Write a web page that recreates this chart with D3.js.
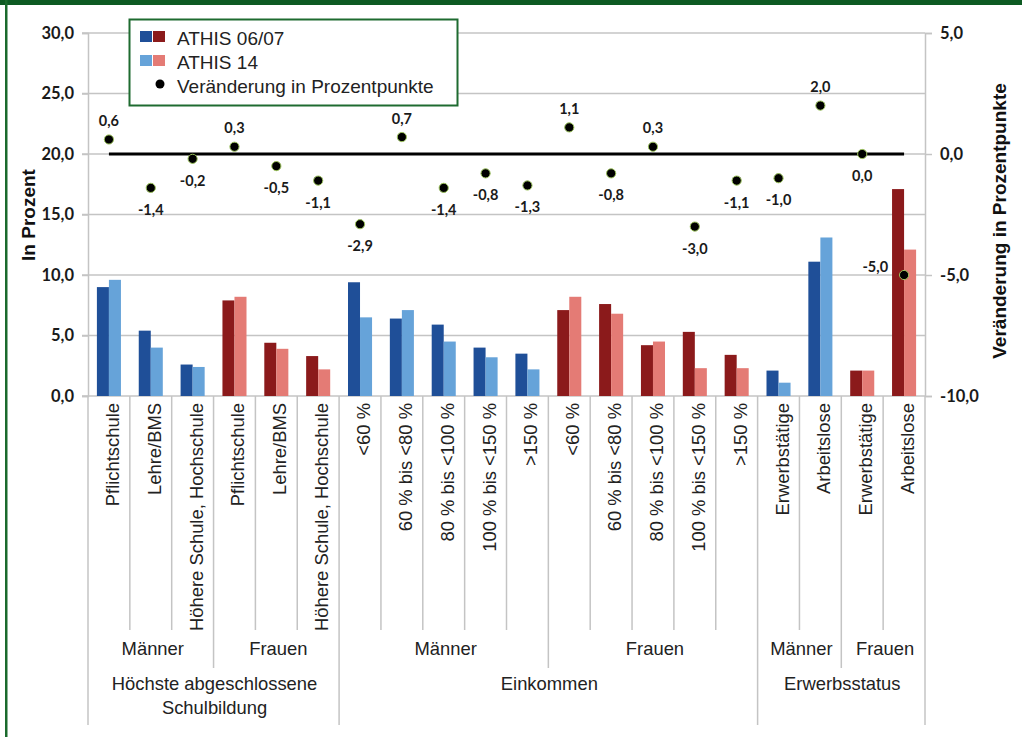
<!DOCTYPE html>
<html>
<head>
<meta charset="utf-8">
<script src="https://cdn.jsdelivr.net/npm/d3@7"></script>
<style>
  html, body { margin: 0; padding: 0; background: #fff; }
  svg { display: block; }
</style>
</head>
<body>
<svg id="chart" width="1022" height="737"></svg>
<script>
// Categories (innermost level of the category axis)
const categories = [
  "Pflichtschule", "Lehre/BMS", "Höhere Schule, Hochschule",
  "Pflichtschule", "Lehre/BMS", "Höhere Schule, Hochschule",
  "<60 %", "60 % bis <80 %", "80 % bis <100 %", "100 % bis <150 %", ">150 %",
  "<60 %", "60 % bis <80 %", "80 % bis <100 %", "100 % bis <150 %", ">150 %",
  "Erwerbstätige", "Arbeitslose",
  "Erwerbstätige", "Arbeitslose"
];
// Sex of each category: M = Männer (blue), F = Frauen (red)
const sex = ["M","M","M","F","F","F","M","M","M","M","M","F","F","F","F","F","M","M","F","F"];

// Middle level: sex groups and their sizes
const sexGroups = ["Männer", "Frauen", "Männer", "Frauen", "Männer", "Frauen"];
const sexGroupSizes = [3, 3, 5, 5, 2, 2];

// Outer level: characteristic groups and their sizes
const mainGroups = [["Höchste abgeschlossene", "Schulbildung"], ["Einkommen"], ["Erwerbsstatus"]];
const mainGroupSizes = [6, 10, 4];

// Values in percent
const athis0607 = [9.0, 5.4, 2.6, 7.9, 4.4, 3.3, 9.4, 6.4, 5.9, 4.0, 3.5, 7.1, 7.6, 4.2, 5.3, 3.4, 2.1, 11.1, 2.1, 17.1];
const athis14   = [9.6, 4.0, 2.4, 8.2, 3.9, 2.2, 6.5, 7.1, 4.5, 3.2, 2.2, 8.2, 6.8, 4.5, 2.3, 2.3, 1.1, 13.1, 2.1, 12.1];
// Change in percentage points (right axis)
const change    = [0.6, -1.4, -0.2, 0.3, -0.5, -1.1, -2.9, 0.7, -1.4, -0.8, -1.3, 1.1, -0.8, 0.3, -3.0, -1.1, -1.0, 2.0, 0.0, -5.0];

const leftTicks = [0, 5, 10, 15, 20, 25, 30];
const rightTicks = [-10, -5, 0, 5];

const colors = {
  M: ["#1f4f98", "#66a3d9"],
  F: ["#8b1a1b", "#e47b75"]
};
const green = "#0d5a22";

const svg = d3.select("#chart");
const W = 1022, H = 737;
const plot = { left: 88, right: 925, top: 33, bottom: 396 };

const deLocale = d3.formatLocale({ decimal: ",", thousands: ".", grouping: [3], currency: ["", " €"], minus: "-" });
const fmt = deLocale.format(".1f");

const x = d3.scaleBand().domain(d3.range(categories.length)).range([plot.left, plot.right]);
const xSub = d3.scaleBand().domain([0, 1]).range([0, x.bandwidth()]).paddingOuter(0.74);
const yL = d3.scaleLinear().domain([0, 30]).range([plot.bottom, plot.top]);
const yR = d3.scaleLinear().domain([-10, 5]).range([plot.bottom, plot.top]);

// Frame
svg.append("rect").attr("x", 0).attr("y", 0).attr("width", W).attr("height", 5).attr("fill", green);
svg.append("rect").attr("x", 5).attr("y", 0).attr("width", 2.5).attr("height", H).attr("fill", "#1a6a2c");

// Grid lines
const gridColor = "#c4c4c4";
svg.append("g").selectAll("line").data(leftTicks).join("line")
  .attr("x1", plot.left - 6).attr("x2", plot.right)
  .attr("y1", d => yL(d)).attr("y2", d => yL(d))
  .attr("stroke", gridColor).attr("stroke-width", 1.5);

// Left axis
const axL = svg.append("g").attr("transform", `translate(${plot.left},0)`)
  .call(d3.axisLeft(yL).tickValues(leftTicks).tickFormat(fmt).tickSize(6).tickPadding(8));
axL.select(".domain").attr("stroke", gridColor).attr("stroke-width", 1.5);
axL.selectAll(".tick line").attr("stroke", gridColor).attr("stroke-width", 1.5);
axL.selectAll("text").attr("font-family", "Lato, sans-serif").attr("font-weight", 700)
  .attr("font-size", 16.5).attr("fill", "#1a1a1a");

// Right axis
const axR = svg.append("g").attr("transform", `translate(${plot.right},0)`)
  .call(d3.axisRight(yR).tickValues(rightTicks).tickFormat(fmt).tickSize(7).tickPadding(8));
axR.select(".domain").attr("stroke", gridColor).attr("stroke-width", 1.5);
axR.selectAll(".tick line").attr("stroke", gridColor).attr("stroke-width", 1.5);
axR.selectAll("text").attr("font-family", "Lato, sans-serif").attr("font-weight", 700)
  .attr("font-size", 16.5).attr("fill", "#1a1a1a");

// Bars
const barData = [];
categories.forEach((c, i) => {
  barData.push({ i, s: 0, v: athis0607[i], col: colors[sex[i]][0] });
  barData.push({ i, s: 1, v: athis14[i], col: colors[sex[i]][1] });
});
svg.append("g").selectAll("rect").data(barData).join("rect")
  .attr("x", d => x(d.i) + xSub(d.s))
  .attr("width", xSub.bandwidth())
  .attr("y", d => yL(d.v))
  .attr("height", d => yL(0) - yL(d.v))
  .attr("fill", d => d.col);

// Zero line of the change axis
const centers = d3.range(categories.length).map(i => x(i) + x.bandwidth() / 2);
svg.append("path")
  .datum([0, categories.length - 1])
  .attr("d", d3.line().x(i => centers[i]).y(() => yR(0)))
  .attr("stroke", "#000").attr("stroke-width", 3).attr("fill", "none");

// Change dots and labels
const dots = svg.append("g");
dots.selectAll("circle").data(change).join("circle")
  .attr("cx", (d, i) => centers[i]).attr("cy", d => yR(d)).attr("r", 4.6)
  .attr("fill", "#000").attr("stroke", "#9cc35c").attr("stroke-width", 1);
dots.selectAll("text").data(change).join("text")
  .attr("x", (d, i) => i === change.length - 1 ? centers[i] - 16 : centers[i])
  .attr("y", (d, i) => i === change.length - 1 ? yR(d) - 9 : (d > 0 ? yR(d) - 19 : yR(d) + 21.5))
  .attr("text-anchor", (d, i) => i === change.length - 1 ? "end" : "middle")
  .attr("dominant-baseline", "central")
  .attr("font-family", "Lato, sans-serif").attr("font-weight", 700).attr("font-size", 14.5)
  .attr("fill", "#1a1a1a")
  .text(d => fmt(d));

// Multi-level category axis
const boundaryDepth = new Array(categories.length + 1).fill(1);
let acc = 0;
sexGroupSizes.forEach(n => { acc += n; boundaryDepth[acc] = Math.max(boundaryDepth[acc], 2); });
acc = 0; boundaryDepth[0] = 3;
mainGroupSizes.forEach(n => { acc += n; boundaryDepth[acc] = 3; });
const depthBottom = { 1: 630, 2: 668, 3: 725 };
svg.append("g").selectAll("line").data(boundaryDepth).join("line")
  .attr("x1", (d, i) => plot.left + i * x.step()).attr("x2", (d, i) => plot.left + i * x.step())
  .attr("y1", plot.bottom).attr("y2", d => depthBottom[d])
  .attr("stroke", gridColor).attr("stroke-width", 1.5);

const labelFont = "'Liberation Sans', Arial, sans-serif";
svg.append("g").selectAll("text").data(categories).join("text")
  .attr("transform", (d, i) => `translate(${centers[i] + 10},403) rotate(-90)`)
  .attr("text-anchor", "end")
  .attr("font-family", labelFont).attr("font-size", 18.4).attr("fill", "#222")
  .text(d => d);

let start = 0;
const sexLabels = sexGroups.map((g, k) => {
  const n = sexGroupSizes[k];
  const cx = plot.left + (start + n / 2) * x.step();
  start += n;
  return { g, cx };
});
svg.append("g").selectAll("text").data(sexLabels).join("text")
  .attr("x", d => d.cx + 2).attr("y", 655)
  .attr("text-anchor", "middle")
  .attr("font-family", labelFont).attr("font-size", 18.4).attr("fill", "#222")
  .text(d => d.g);

start = 0;
const mainLabels = mainGroups.map((g, k) => {
  const n = mainGroupSizes[k];
  const cx = plot.left + (start + n / 2) * x.step();
  start += n;
  return { g, cx };
});
const ml = svg.append("g").selectAll("text").data(mainLabels).join("text")
  .attr("x", d => d.cx + 1).attr("y", 690)
  .attr("text-anchor", "middle")
  .attr("font-family", labelFont).attr("font-size", 18.4).attr("fill", "#222");
ml.selectAll("tspan").data(d => d.g.map(t => ({ t, cx: d.cx + 1 }))).join("tspan")
  .attr("x", d => d.cx).attr("dy", (d, j) => j === 0 ? 0 : 24)
  .text(d => d.t);

// Axis titles
svg.append("text")
  .attr("transform", `translate(35,215) rotate(-90)`)
  .attr("text-anchor", "middle")
  .attr("font-family", labelFont).attr("font-weight", 700).attr("font-size", 19).attr("fill", "#111")
  .text("In Prozent");
svg.append("text")
  .attr("transform", `translate(1006,221) rotate(-90)`)
  .attr("text-anchor", "middle")
  .attr("font-family", labelFont).attr("font-weight", 700).attr("font-size", 19).attr("fill", "#111")
  .text("Veränderung in Prozentpunkte");

// Legend
const lg = svg.append("g");
lg.append("rect").attr("x", 129.5).attr("y", 19.5).attr("width", 328).attr("height", 86)
  .attr("fill", "#fff").attr("stroke", "#1e6b30").attr("stroke-width", 2);
const legendRows = [
  { label: "ATHIS 06/07", swatches: [colors.M[0], colors.F[0]] },
  { label: "ATHIS 14", swatches: [colors.M[1], colors.F[1]] },
  { label: "Veränderung in Prozentpunkte", dot: true }
];
legendRows.forEach((r, k) => {
  const base = 45 + k * 24;
  if (r.dot) {
    lg.append("circle").attr("cx", 160).attr("cy", base - 9).attr("r", 4.5).attr("fill", "#000");
  } else {
    r.swatches.forEach((c, j) => {
      lg.append("rect").attr("x", 140 + j * 13).attr("y", base - 14).attr("width", 12).attr("height", 11).attr("fill", c);
    });
  }
  lg.append("text").attr("x", 177).attr("y", base)
    .attr("font-family", labelFont).attr("font-size", 19).attr("fill", "#222")
    .text(r.label);
});
</script>
</body>
</html>
